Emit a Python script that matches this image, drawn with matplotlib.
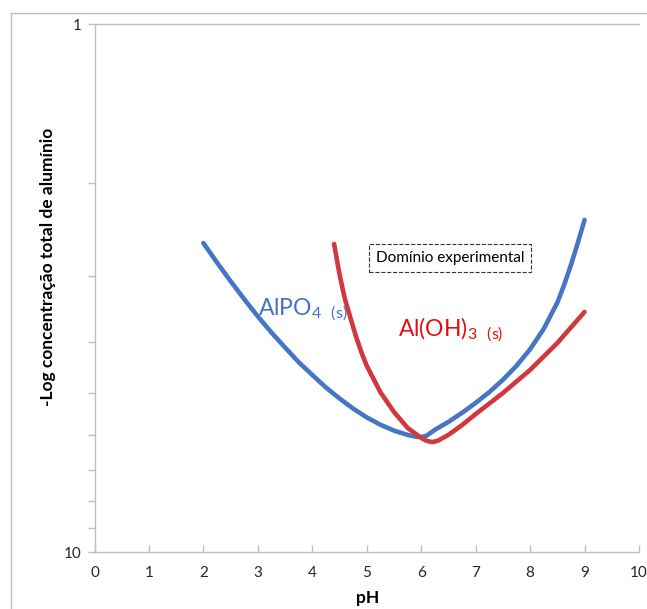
import matplotlib.pyplot as plt
from matplotlib.lines import Line2D
from matplotlib.ticker import FixedLocator, NullFormatter

plt.rcParams['font.family'] = ['Lato', 'DejaVu Sans']
plt.rcParams['mathtext.fontset'] = 'custom'
plt.rcParams['mathtext.rm'] = 'Lato'
plt.rcParams['mathtext.default'] = 'regular'

# AlPO4 (s) curve
ph_alpo4 = [2.0, 2.25, 2.5, 2.75, 3.0, 3.25, 3.5, 3.75, 4.0, 4.25, 4.5, 4.75,
            5.0, 5.25, 5.5, 5.75, 5.9, 6.0, 6.1, 6.25, 6.5, 6.75, 7.0, 7.25,
            7.5, 7.75, 8.0, 8.25, 8.5, 8.625, 8.75, 8.875, 9.0]
log_alpo4 = [2.60, 2.83, 3.07, 3.32, 3.58, 3.84, 4.10, 4.37, 4.62, 4.88, 5.12, 5.35,
             5.56, 5.74, 5.89, 6.00, 6.05, 6.06, 6.02, 5.87, 5.67, 5.45, 5.22, 4.98,
             4.72, 4.44, 4.13, 3.78, 3.37, 3.12, 2.86, 2.60, 2.35]

# Al(OH)3 (s) curve
ph_aloh3 = [4.4, 4.5, 4.6, 4.7, 4.8, 4.9, 5.0, 5.25, 5.5, 5.75, 6.0, 6.1, 6.2,
            6.3, 6.5, 6.75, 7.0, 7.5, 8.0, 8.5, 9.0]
log_aloh3 = [2.61, 2.98, 3.32, 3.60, 3.90, 4.18, 4.44, 4.98, 5.43, 5.82, 6.08, 6.16, 6.19,
             6.16, 6.00, 5.75, 5.48, 5.00, 4.52, 4.02, 3.51]

x_ticks = list(range(0, 11))
y_major = [1, 10]
y_minor = [2, 3, 4, 5, 6, 7, 8, 9]

blue = '#4676C3'
red = '#D1383D'
axis_gray = '#BFBFBF'

fig = plt.figure(figsize=(6.47, 6.09), dpi=100)
ax = fig.add_axes([94.5 / 647, 1 - 552 / 609, (639 - 94.5) / 647, (552 - 24) / 609])

ax.plot(ph_alpo4, log_alpo4, color=blue, lw=3.3, solid_capstyle='round', solid_joinstyle='round')
ax.plot(ph_aloh3, log_aloh3, color=red, lw=3.3, solid_capstyle='round', solid_joinstyle='round')

ax.set_yscale('log')
ax.set_xlim(0, 10)
ax.set_ylim(10, 1)
ax.yaxis.set_major_locator(FixedLocator(y_major))
ax.set_yticklabels([str(v) for v in y_major])
ax.yaxis.set_minor_locator(FixedLocator(y_minor))
ax.yaxis.set_minor_formatter(NullFormatter())
ax.set_xticks(x_ticks)
ax.set_xticklabels([str(v) for v in x_ticks])

for side in ['left', 'bottom', 'top']:
    ax.spines[side].set_color(axis_gray)
    ax.spines[side].set_linewidth(1)
ax.spines['right'].set_visible(False)

ax.tick_params(axis='x', direction='in', length=5, width=1, color=axis_gray,
               labelsize=11, pad=10, labelcolor='#262626')
ax.tick_params(axis='y', which='both', direction='out', length=5, width=1,
               color=axis_gray, labelsize=11, pad=4, labelcolor='#262626')

ax.text(3.0, 3.48, r'AlPO$_{4\ \ (s)}$', color='#4472C4', fontsize=16.5, va='center', ha='left')
ax.text(5.58, 3.8, r'Al(OH)$_{3\ \ (s)}$', color='#E01010', fontsize=16.5, va='center', ha='left')
ax.text(6.53, 2.77, 'Domínio experimental', fontsize=11, ha='center', va='center',
        bbox=dict(boxstyle='square,pad=0.45', fc='white', ec='#333333', ls='--', lw=0.8))

fig.text(48 / 647, 1 - 267 / 609, '-Log concentração total de alumínio', rotation=90,
         fontsize=12.5, fontweight='bold', ha='center', va='center')
fig.text(368 / 647, 1 - 598 / 609, 'pH', fontsize=12.5, fontweight='bold',
         ha='center', va='center')

# chart area border
fig.add_artist(Line2D([11 / 647, 1], [1 - 13 / 609, 1 - 13 / 609], color='#BFBFBF', lw=1))
fig.add_artist(Line2D([11 / 647, 11 / 647], [0, 1 - 13 / 609], color='#BFBFBF', lw=1))

fig.savefig('out.png', dpi=100)
